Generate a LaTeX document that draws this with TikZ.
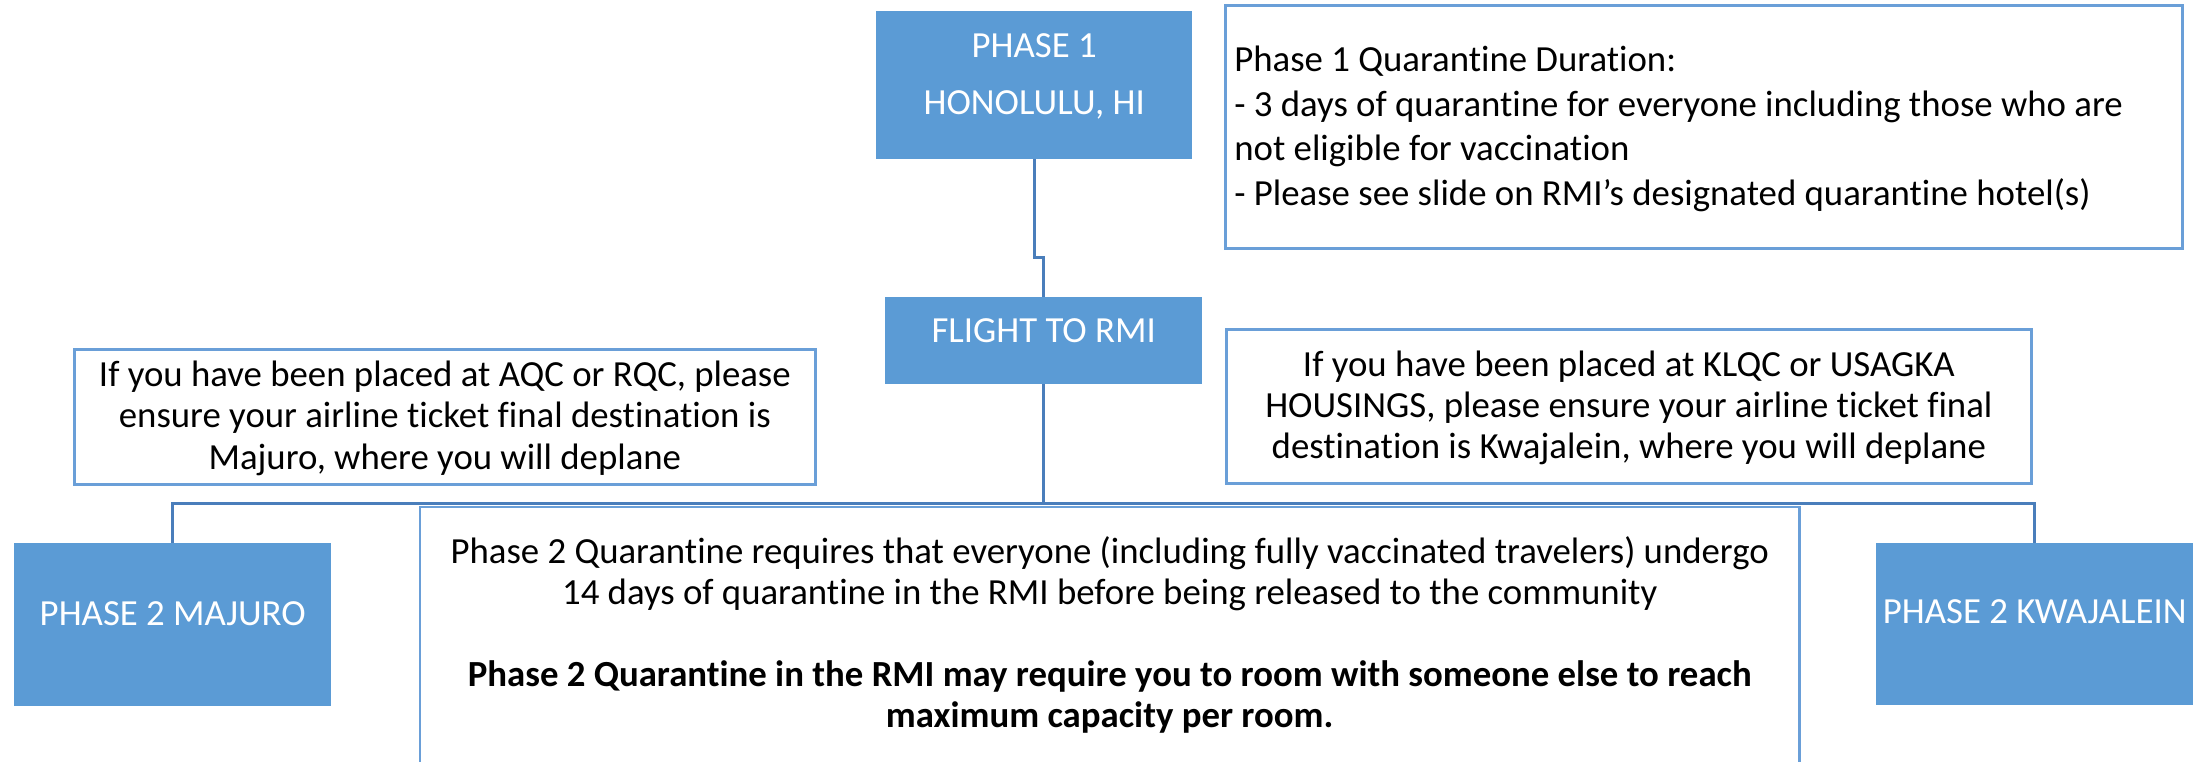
\documentclass[tikz,border=0pt]{standalone}
\usepackage{fontspec}
\setmainfont{Carlito}[Ligatures=NoCommon]
\usetikzlibrary{calc}

\definecolor{boxblue}{HTML}{5B9BD5}
\definecolor{edgeblue}{HTML}{6A9FD8}
\definecolor{linkblue}{HTML}{4A7EBB}

% fixed-size panel: width, height, first baseline, alignment, text
\newcommand\textpanel[5]{%
  \parbox[c][#2][t]{#1}{#4\rule{0pt}{#3}\ignorespaces#5}}

\tikzset{
  bluebox/.style={fill=boxblue, text=white, inner sep=0pt, anchor=north west},
  notebox/.style={draw=edgeblue, line width=2.7pt, fill=white, text=black,
                  inner sep=0pt, anchor=north west},
  conn/.style={draw=linkblue, line width=2.6pt},
}

\begin{document}
\begin{tikzpicture}[x=1pt, y=-1pt]
\useasboundingbox[fill=white] (0,0) rectangle (2208,761);

% process boxes
\node[bluebox, font=\fontsize{36.8}{57}\selectfont] (honolulu) at (876,11)
  {\textpanel{316pt}{148pt}{46pt}{\centering}{PHASE 1\\HONOLULU, HI}};
\node[bluebox, font=\fontsize{36.8}{44}\selectfont] (flight) at (885,297)
  {\textpanel{317pt}{87pt}{45pt}{\centering}{FLIGHT TO RMI}};
\node[bluebox, font=\fontsize{36.8}{44}\selectfont] (majuro) at (14,543)
  {\textpanel{317pt}{163pt}{82pt}{\centering}{PHASE 2 MAJURO}};
\node[bluebox, font=\fontsize{36.8}{44}\selectfont] (kwaj) at (1876,543)
  {\textpanel{317pt}{162pt}{80pt}{\centering}{PHASE 2 KWAJALEIN}};

% notes
\node[notebox, font=\fontsize{36.8}{44.8}\selectfont] (phase1note) at (1224,4)
  {\textpanel{957pt}{243pt}{66pt}{\raggedright\leftskip=9pt}{Phase 1 Quarantine Duration:\\
   - 3 days of quarantine for everyone including those who are\\
   not eligible for vaccination\\
   - Please see slide on RMI’s designated quarantine hotel(s)}};

\node[notebox, font=\fontsize{36.8}{41.5}\selectfont] (majuronote) at (73,348)
  {\textpanel{741pt}{135pt}{37pt}{\centering}{If you have been placed at AQC or RQC, please\\
   ensure your airline ticket final destination is\\
   Majuro, where you will deplane}};

\node[notebox, font=\fontsize{36.8}{41}\selectfont] (kwajnote) at (1225,328)
  {\textpanel{805pt}{154pt}{47pt}{\centering}{If you have been placed at KLQC or USAGKA\\
   HOUSINGS, please ensure your airline ticket final\\
   destination is Kwajalein, where you will deplane}};

% phase 2 rules, open at the bottom edge
\node[inner sep=0pt, anchor=north west, font=\fontsize{36.8}{41}\selectfont] (rules) at (420,507)
  {\textpanel{1379pt}{262pt}{56pt}{\centering}{Phase 2 Quarantine requires that everyone (including fully vaccinated travelers) undergo\\
   14 days of quarantine in the RMI before being released to the community\\[41pt]
   \bfseries Phase 2 Quarantine in the RMI may require you to room with someone else to reach\\
   maximum capacity per room.}};
\draw[draw=edgeblue, line width=2.2pt] (rules.south west) |- (rules.north east) -- (rules.south east);

% connectors
\draw[conn] (honolulu.south) -- ++(0,98) -| (flight.north);
\draw[conn] (flight.south) -- ++(0,119) coordinate (bus) -| (majuro.north);
\draw[conn] (bus) -| (kwaj.north);
\end{tikzpicture}
\end{document}
